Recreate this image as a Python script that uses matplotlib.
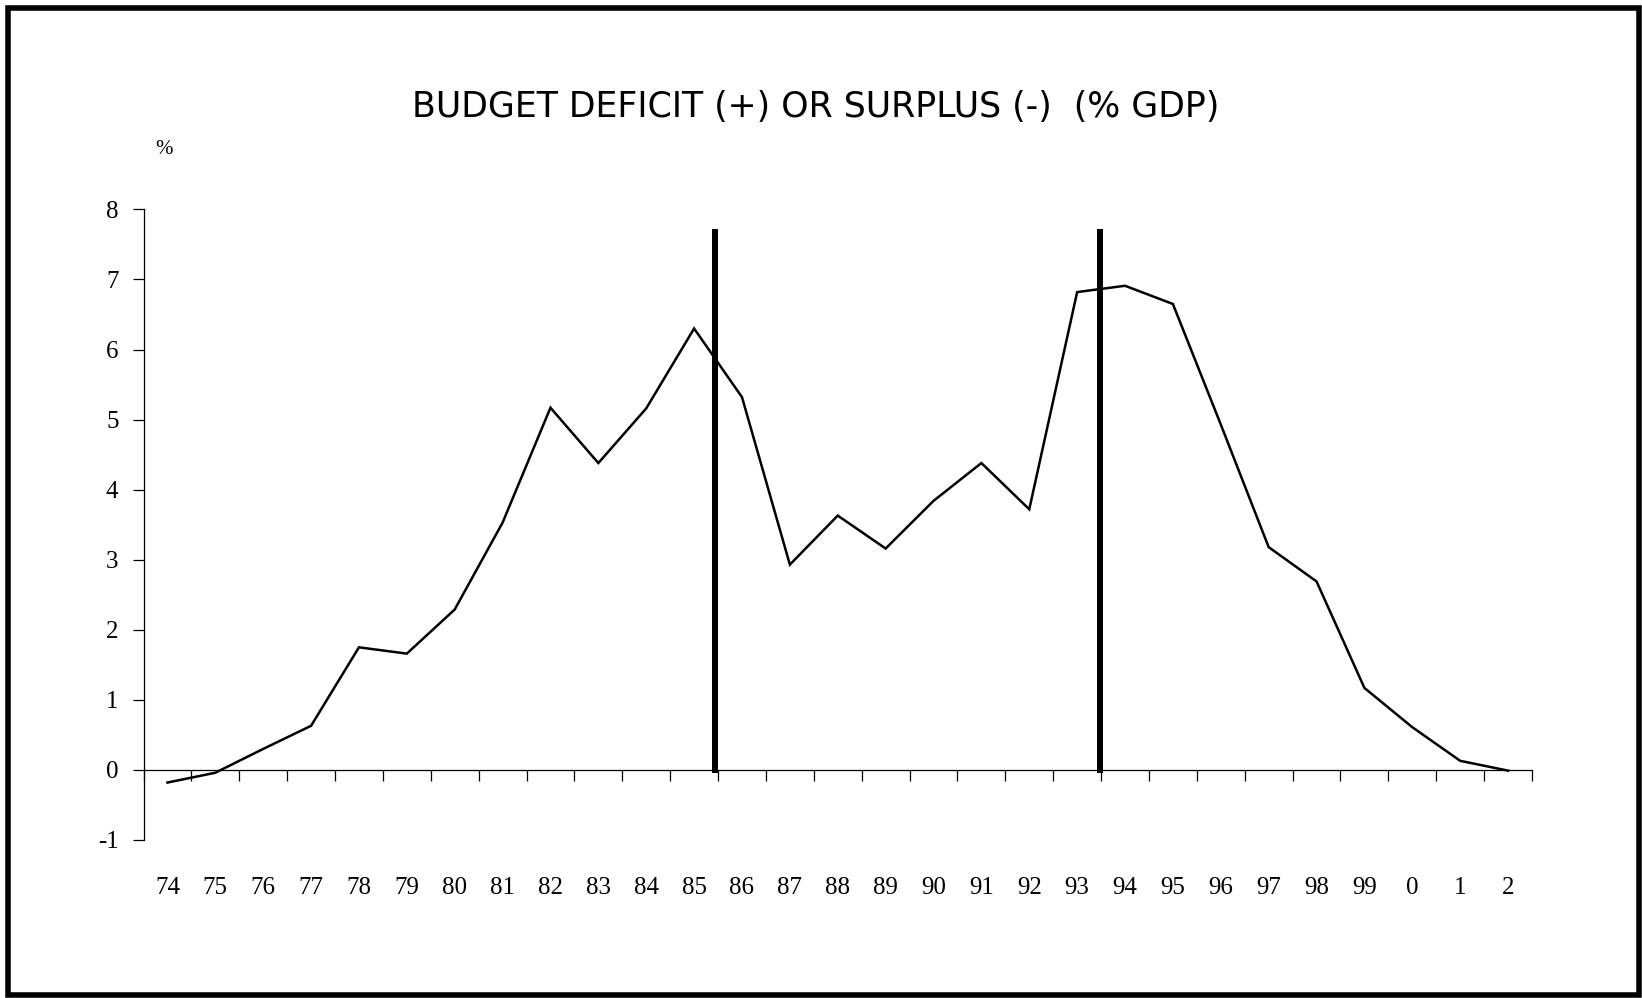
import matplotlib
matplotlib.use("Agg")
import matplotlib.pyplot as plt
from matplotlib.patches import Rectangle
from matplotlib.ticker import FixedLocator

years = ["74", "75", "76", "77", "78", "79", "80", "81", "82", "83", "84", "85", "86", "87",
         "88", "89", "90", "91", "92", "93", "94", "95", "96", "97", "98", "99", "0", "1", "2"]
deficit = [-0.18, -0.04, 0.30, 0.63, 1.75, 1.66, 2.29, 3.53, 5.17, 4.38, 5.16, 6.30, 5.32, 2.93,
           3.63, 3.16, 3.84, 4.38, 3.72, 6.82, 6.91, 6.65, 4.93, 3.18, 2.69, 1.17, 0.61, 0.13, -0.01]
break_positions = [11.43, 19.47]   # between 85/86 and 93/94
break_span = (-0.05, 7.72)
yticks = [-1, 0, 1, 2, 3, 4, 5, 6, 7, 8]

W, H = 1642, 998
fig = plt.figure(figsize=(W / 100, H / 100), dpi=100)
fig.patch.set_facecolor("white")

# outer frame
fig.patches.append(Rectangle((7.5 / W, 3 / H), (W - 10.5) / W, (H - 10.5) / H,
                             transform=fig.transFigure, fill=False,
                             edgecolor="black", linewidth=4.0))

ax = fig.add_axes([143.5 / W, (H - 840) / H, (1532 - 143.5) / W, (840 - 209.4) / H])
x = list(range(len(years)))
ax.plot(x, deficit, color="black", linewidth=1.8, solid_joinstyle="miter")
for bp in break_positions:
    ax.plot([bp, bp], list(break_span), color="black", linewidth=4.3, solid_capstyle="butt")

ax.set_xlim(-0.5, len(years) - 0.5)
ax.set_ylim(-1, 8)

ax.spines["top"].set_visible(False)
ax.spines["right"].set_visible(False)
ax.spines["bottom"].set_position(("data", 0))
ax.spines["bottom"].set_linewidth(0.9)
ax.spines["left"].set_linewidth(0.9)

ax.set_yticks(yticks)
ax.set_yticklabels([str(v) for v in yticks], fontfamily="Liberation Serif", fontsize=18)
ax.tick_params(axis="y", direction="out", length=8, width=0.9, pad=10)

ax.xaxis.set_major_locator(FixedLocator(x))
ax.set_xticklabels(years, fontfamily="Liberation Serif", fontsize=18)
ax.xaxis.set_minor_locator(FixedLocator([i - 0.5 for i in range(len(years) + 1)]))
ax.tick_params(axis="x", which="major", length=0, pad=77)
ax.tick_params(axis="x", which="minor", direction="out", length=8, width=0.9)

fig.text(816 / W, 1 - 106.5 / H, "BUDGET DEFICIT (+) OR SURPLUS (-)  (% GDP)",
         ha="center", va="center", fontfamily="DejaVu Sans", fontsize=25)
fig.text(164 / W, 1 - 150 / H, "%", ha="center", va="center",
         fontfamily="Liberation Serif", fontsize=15)

fig.savefig("out.png", dpi=100, facecolor="white")
